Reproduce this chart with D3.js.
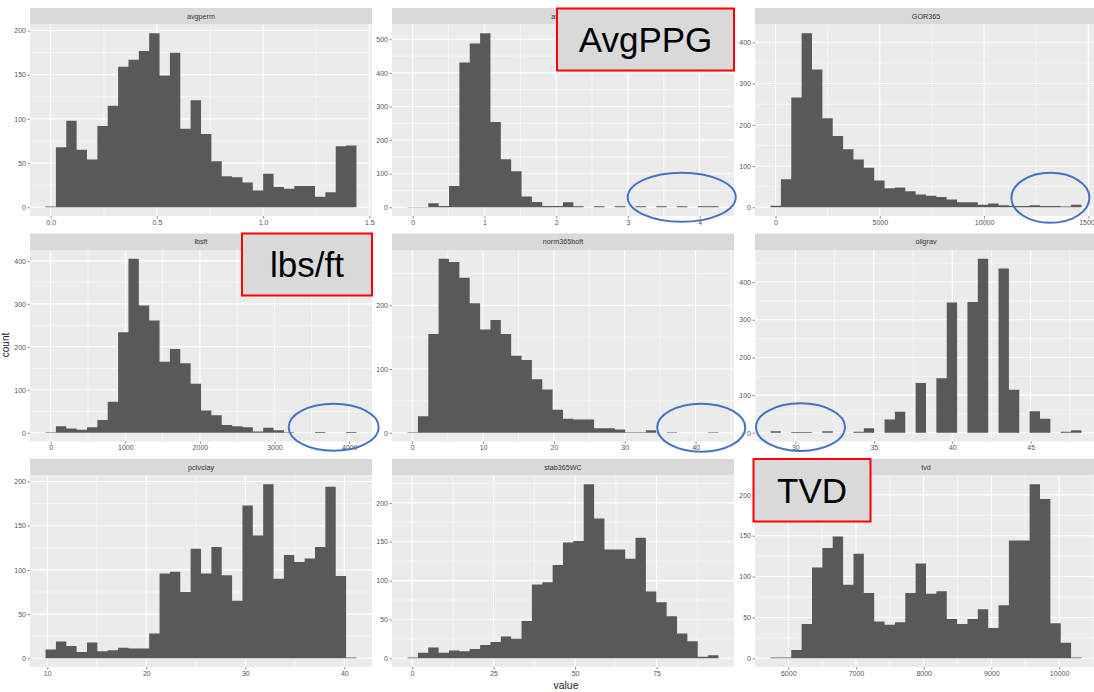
<!DOCTYPE html>
<html>
<head>
<meta charset="utf-8">
<script src="https://cdn.jsdelivr.net/npm/d3@7"></script>
<style>
  body { margin: 0; background: #fff; }
  text { font-family: "Liberation Sans", Arial, sans-serif; }
</style>
</head>
<body>
<svg class="facets"></svg>
<script>
const width = 1094;
const height = 692;

// facet names (strip labels), row by row
const facets = ["avgperm", "avgppg", "GOR365", "lbsft", "norm365boft", "oilgrav", "pctvclay", "stab365WC", "tvd"];

// centre of first and last bin (30 bins each)
const binFirst = [0, 0, 8, 0, 0.07, 28.75, 10.35, 0.2, 5815];
const binLast = [1.415, 4.19, 14420, 4030, 42.5, 47.9, 40.7, 92.4, 10254];

// counts per bin
const avgperm = [1, 68, 98, 65, 54, 92, 115, 159, 167, 177, 197, 149, 175, 89, 121, 83, 52, 35, 34, 28, 19, 38, 23, 21, 24, 24, 12, 17, 69, 70];
const avgppg = [1, 1, 12, 4, 63, 431, 487, 518, 254, 143, 107, 32, 16, 4, 4, 15, 3, 0, 3, 0, 3, 0, 3, 0, 3, 0, 3, 0, 3, 3];
const gor365 = [4, 68, 266, 422, 334, 216, 173, 141, 116, 96, 65, 46, 48, 39, 31, 28, 25, 19, 12, 12, 6, 9, 5, 3, 3, 5, 3, 3, 2, 6];
const lbsft = [1, 15, 10, 7, 13, 30, 72, 234, 405, 296, 261, 165, 195, 162, 114, 52, 41, 18, 15, 13, 3, 12, 6, 1, 0, 0, 2, 0, 0, 2];
const norm365boft = [1, 26, 155, 273, 268, 243, 203, 162, 177, 155, 121, 114, 84, 68, 36, 22, 21, 21, 7, 7, 5, 1, 1, 4, 0, 1, 0, 0, 0, 1];
const oilgrav = [4, 0, 2, 2, 0, 4, 0, 0, 3, 12, 0, 35, 56, 0, 132, 0, 145, 346, 0, 347, 462, 0, 436, 114, 0, 57, 37, 0, 3, 7];
const pctvclay = [10, 19, 14, 7, 18, 8, 9, 12, 11, 11, 28, 96, 98, 75, 124, 96, 126, 94, 65, 173, 139, 197, 90, 117, 109, 113, 126, 194, 93, 1];
const stab365wc = [1, 7, 14, 7, 10, 9, 12, 17, 21, 28, 25, 48, 95, 98, 120, 149, 151, 224, 180, 140, 140, 128, 155, 86, 72, 54, 32, 22, 2, 4];
const tvd = [1, 1, 10, 42, 111, 135, 149, 90, 128, 80, 45, 41, 44, 80, 116, 79, 82, 48, 42, 48, 60, 37, 65, 144, 144, 213, 195, 43, 19, 1];
const counts = [avgperm, avgppg, gor365, lbsft, norm365boft, oilgrav, pctvclay, stab365wc, tvd];

// axis breaks and labels
const xTicks = [
  [0, 0.5, 1, 1.5], [0, 1, 2, 3, 4], [0, 5000, 10000, 15000],
  [0, 1000, 2000, 3000, 4000], [0, 10, 20, 30, 40], [30, 35, 40, 45],
  [10, 20, 30, 40], [0, 25, 50, 75], [6000, 7000, 8000, 9000, 10000]
];
const xTickLabels = [
  ["0.0", "0.5", "1.0", "1.5"], ["0", "1", "2", "3", "4"], ["0", "5000", "10000", "15000"],
  ["0", "1000", "2000", "3000", "4000"], ["0", "10", "20", "30", "40"], ["30", "35", "40", "45"],
  ["10", "20", "30", "40"], ["0", "25", "50", "75"], ["6000", "7000", "8000", "9000", "10000"]
];
const yTicks = [
  [0, 50, 100, 150, 200], [0, 100, 200, 300, 400, 500], [0, 100, 200, 300, 400],
  [0, 100, 200, 300, 400], [0, 100, 200], [0, 100, 200, 300, 400],
  [0, 50, 100, 150, 200], [0, 50, 100, 150, 200], [0, 50, 100, 150, 200]
];

// highlight annotations (slide overlay)
const labelBoxes = [
  { text: "AvgPPG", x: 557, y: 8.5, w: 177, h: 62 },
  { text: "lbs/ft", x: 242, y: 233.5, w: 130, h: 62 },
  { text: "TVD", x: 753.5, y: 459, w: 117, h: 62.5 }
];
// ellipses: facet index, centre in data units, radii in px
const rings = [
  { facet: 1, x: 3.75, y: 30, rx: 54, ry: 24.5 },
  { facet: 2, x: 13180, y: 23, rx: 39, ry: 25 },
  { facet: 3, x: 3794, y: 13, rx: 45, ry: 23.5 },
  { facet: 4, x: 40.8, y: 8, rx: 44, ry: 24 },
  { facet: 5, x: 30.33, y: 15, rx: 44.5, ry: 23.8 }
];

const colX = [30, 392, 755];
const rowY = [8, 233.5, 459];
const panelW = 342;
const stripH = 16.5;
const panelH = 191.5;

const svg = d3.select(".facets").attr("width", width).attr("height", height);

const scales = [];

facets.forEach((name, i) => {
  const x0 = colX[i % 3];
  const top = rowY[Math.floor(i / 3)];
  const py = top + stripH;
  const data = counts[i];
  const bw = (binLast[i] - binFirst[i]) / (data.length - 1);
  const lo = binFirst[i] - bw / 2;
  const hi = binLast[i] + bw / 2;
  const pad = (hi - lo) * 0.05;
  const ymax = d3.max(data);

  const x = d3.scaleLinear().domain([lo - pad, hi + pad]).range([x0, x0 + panelW]);
  const y = d3.scaleLinear().domain([-0.05 * ymax, 1.05 * ymax]).range([py + panelH, py]);
  scales.push({ x, y });

  const g = svg.append("g");

  // strip
  g.append("rect")
    .attr("x", x0).attr("y", top)
    .attr("width", panelW).attr("height", stripH)
    .attr("fill", "#d9d9d9");
  g.append("text")
    .attr("x", x0 + panelW / 2)
    .attr("y", top + stripH / 2 + 2.5)
    .attr("text-anchor", "middle")
    .style("font-size", "7.2px")
    .attr("fill", "#333")
    .text(name);

  // panel
  g.append("rect")
    .attr("x", x0).attr("y", py)
    .attr("width", panelW).attr("height", panelH)
    .attr("fill", "#ebebeb");

  const minor = (ticks, dom) => {
    const step = ticks[1] - ticks[0];
    const out = [];
    for (let v = ticks[0] - step / 2; v <= ticks[ticks.length - 1] + step / 2 + 1e-9; v += step) {
      if (v >= dom[0] && v <= dom[1]) out.push(v);
    }
    return out;
  };

  const xt = xTicks[i].filter((v) => v >= x.domain()[0] && v <= x.domain()[1]);
  const yt = yTicks[i];

  g.selectAll(".yminor")
    .data(minor(yt, y.domain()))
    .enter().append("line")
    .attr("x1", x0).attr("x2", x0 + panelW)
    .attr("y1", (d) => y(d)).attr("y2", (d) => y(d))
    .attr("stroke", "#fff").attr("stroke-width", 0.55);
  g.selectAll(".xminor")
    .data(minor(xTicks[i], x.domain()))
    .enter().append("line")
    .attr("y1", py).attr("y2", py + panelH)
    .attr("x1", (d) => x(d)).attr("x2", (d) => x(d))
    .attr("stroke", "#fff").attr("stroke-width", 0.55);
  g.selectAll(".ymajor")
    .data(yt)
    .enter().append("line")
    .attr("x1", x0).attr("x2", x0 + panelW)
    .attr("y1", (d) => y(d)).attr("y2", (d) => y(d))
    .attr("stroke", "#fff").attr("stroke-width", 1.1);
  g.selectAll(".xmajor")
    .data(xt)
    .enter().append("line")
    .attr("y1", py).attr("y2", py + panelH)
    .attr("x1", (d) => x(d)).attr("x2", (d) => x(d))
    .attr("stroke", "#fff").attr("stroke-width", 1.1);

  // bars: one path per panel so neighbouring bins show no seams
  const bars = d3.path();
  data.forEach((c, k) => {
    if (c <= 0) return;
    const xa = x(lo + k * bw);
    const xb = x(lo + (k + 1) * bw);
    bars.rect(xa, y(c), xb - xa, y(0) - y(c));
  });
  g.append("path")
    .attr("d", bars.toString())
    .attr("fill", "#595959");

  // axes
  const yAxis = g.append("g")
    .attr("transform", `translate(${x0},0)`)
    .call(d3.axisLeft(y).tickValues(yt).tickSize(2.5).tickPadding(1.5));
  const labels = xTickLabels[i];
  const xAxis = g.append("g")
    .attr("transform", `translate(0,${py + panelH})`)
    .call(d3.axisBottom(x).tickValues(xt).tickSize(2.5).tickPadding(1.5)
      .tickFormat((d) => labels[xTicks[i].indexOf(d)]));
  [yAxis, xAxis].forEach((a) => {
    a.select(".domain").remove();
    a.selectAll("line").attr("stroke", "#444").attr("stroke-width", 0.6);
    a.selectAll("text").attr("fill", "#555").style("font-size", "7px").attr("font-family", null);
  });
});

// axis titles
svg.append("text")
  .attr("transform", "translate(9,345) rotate(-90)")
  .attr("text-anchor", "middle")
  .style("font-size", "10px")
  .attr("fill", "#222")
  .text("count");

svg.append("text")
  .attr("x", 566)
  .attr("y", 689)
  .attr("text-anchor", "middle")
  .style("font-size", "10.5px")
  .attr("fill", "#222")
  .text("value");

// blue rings around the sparse tails
svg.selectAll(".ring")
  .data(rings)
  .enter().append("ellipse")
  .attr("cx", (d) => scales[d.facet].x(d.x))
  .attr("cy", (d) => scales[d.facet].y(d.y))
  .attr("rx", (d) => d.rx)
  .attr("ry", (d) => d.ry)
  .attr("fill", "none")
  .attr("stroke", "#4472c4")
  .attr("stroke-width", 2);

// red label boxes
const boxes = svg.selectAll(".labelbox")
  .data(labelBoxes)
  .enter().append("g");
boxes.append("rect")
  .attr("x", (d) => d.x).attr("y", (d) => d.y)
  .attr("width", (d) => d.w).attr("height", (d) => d.h)
  .attr("fill", "#d9d9d9")
  .attr("stroke", "#ff0000")
  .attr("stroke-width", 2);
boxes.append("text")
  .attr("x", (d) => d.x + d.w / 2)
  .attr("y", (d) => d.y + d.h / 2 + 12.5)
  .attr("text-anchor", "middle")
  .style("font-size", "35px")
  .attr("fill", "#000")
  .text((d) => d.text);
</script>
</body>
</html>
